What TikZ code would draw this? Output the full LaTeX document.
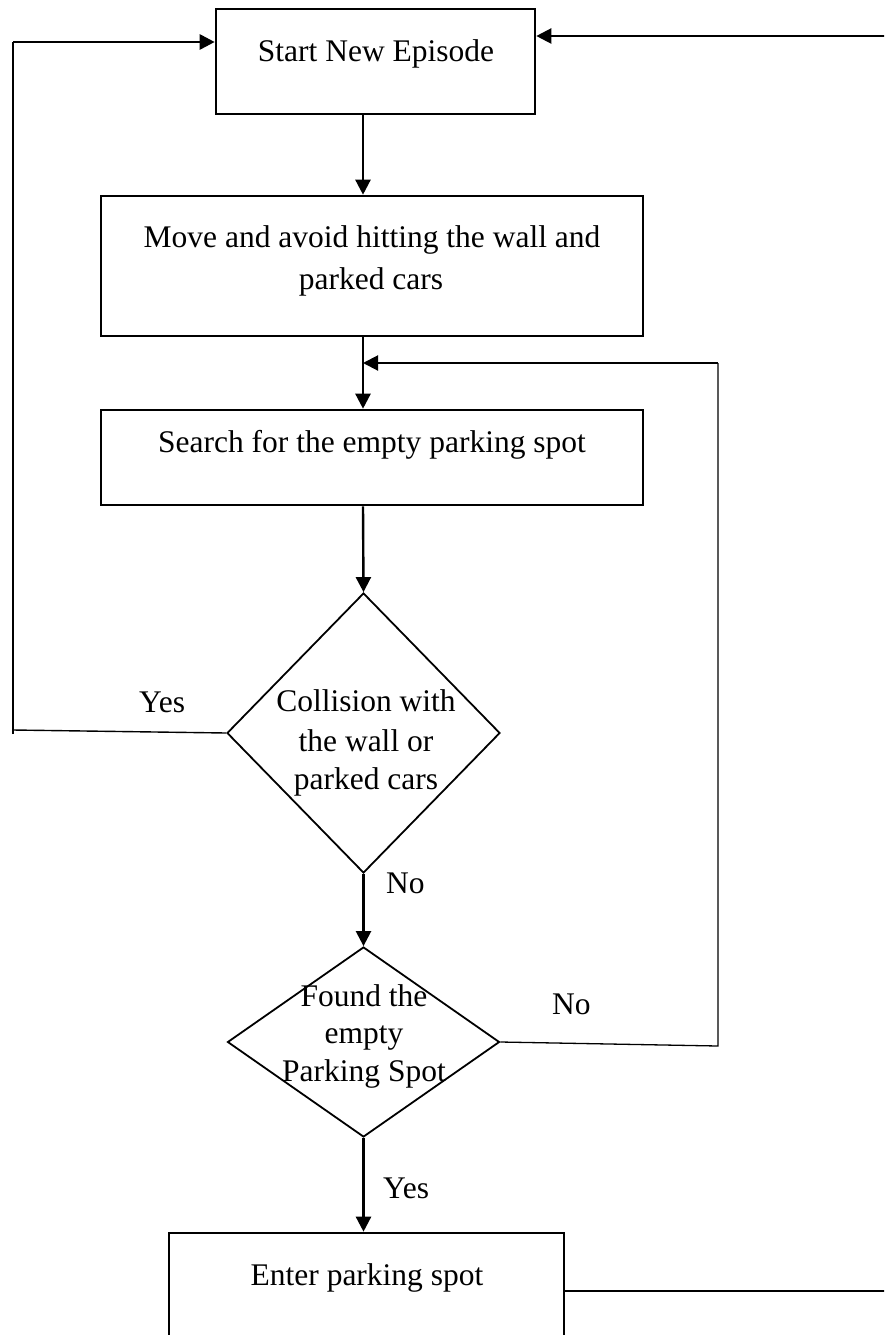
\documentclass[tikz,border=0pt]{standalone}
\usepackage{fontspec}
\setmainfont{Liberation Serif}
\usetikzlibrary{shapes.geometric,arrows.meta}
\begin{document}
\begin{tikzpicture}[x=1pt,y=-1pt,
  font=\fontsize{31.5}{38}\selectfont,
  box/.style={draw,line width=2.6pt,rectangle,inner sep=0pt},
  choice/.style={draw,line width=1.8pt,diamond,inner sep=0pt},
  txt/.style={anchor=base,inner sep=0pt},
  lbl/.style={anchor=base west,inner sep=0pt},
  tip/.style={-{Triangle[length=15pt,width=15pt]}},
  flow/.style={line width=2.4pt,tip},
  ret/.style={line width=1.4pt},
]
\useasboundingbox (0,0) rectangle (884,1335);
\clip (0,0) rectangle (884,1335);

% process boxes and decisions
\node[box,minimum width=319pt,minimum height=105pt] (start)  at (375.5,61.5) {};
\node[box,minimum width=542pt,minimum height=140pt] (move)   at (372,266)    {};
\node[box,minimum width=542pt,minimum height=95pt]  (search) at (372,457.5)  {};
\node[choice,minimum width=273pt,minimum height=280pt] (coll)  at (363.5,733)  {};
\node[choice,minimum width=272pt,minimum height=190pt] (found) at (363.5,1042) {};
\node[box,minimum width=395pt,minimum height=110pt] (enter)  at (366.5,1288) {};

% texts
\node[txt] (tstart)  at (376,62)   {Start New Episode};
\node[txt] (tmove1)  at (372,247)  {Move and avoid hitting the wall and};
\node[txt] (tmove2)  at (371,289)  {parked cars};
\node[txt] (tsearch) at (372,452)  {Search for the empty parking spot};
\node[txt] (tcoll1)  at (366,711)  {Collision with};
\node[txt] (tcoll2)  at (366,751)  {the wall or};
\node[txt] (tcoll3)  at (366,789)  {parked cars};
\node[txt] (tfound1) at (364,1006) {Found the};
\node[txt] (tfound2) at (364,1043) {empty};
\node[txt] (tfound3) at (364,1081) {Parking Spot};
\node[txt] (tenter)  at (367,1285) {Enter parking spot};

% branch labels
\node[lbl] (yes1) at (139,712)  {Yes};
\node[lbl] (no1)  at (386,893)  {No};
\node[lbl] (no2)  at (552,1014) {No};
\node[lbl] (yes2) at (383,1198) {Yes};

% main flow
\coordinate (axis) at (363,0);
\draw[flow] (start.south -| axis) -- (move.north -| axis);
\draw[flow] (move.south -| axis) -- (search.north -| axis);
\draw[flow] (search.south -| axis) -- (coll.north);
\draw[flow] (coll.south) -- (found.north);
\draw[flow] (found.south) -- (enter.north -| found.south);

% collision: back to a new episode
\coordinate (ljoin) at (13,730);
\coordinate (lbot)  at (13,734);
\coordinate (ltop)  at (13,42);
\draw[ret] (coll.west) -- (ljoin);
\draw[ret] (lbot) -- (ltop);
\draw[line width=2.8pt,tip] (ltop) -- (ltop -| start.west);

% spot not found: keep searching
\coordinate (rin)    at (718,1046);
\coordinate (rintop) at (718,363);
\draw[line width=1.3pt] (found.east) -- (rin) -- (rintop);
\draw[line width=2pt,tip] (rintop) -- (rintop -| axis);

% parked: start over
\coordinate (obot) at (900,1291);
\coordinate (otop) at (900,36);
\draw[line width=2.2pt,tip] (enter.east |- obot) -- (obot) -- (otop) -- (otop -| start.east);
\end{tikzpicture}
\end{document}
